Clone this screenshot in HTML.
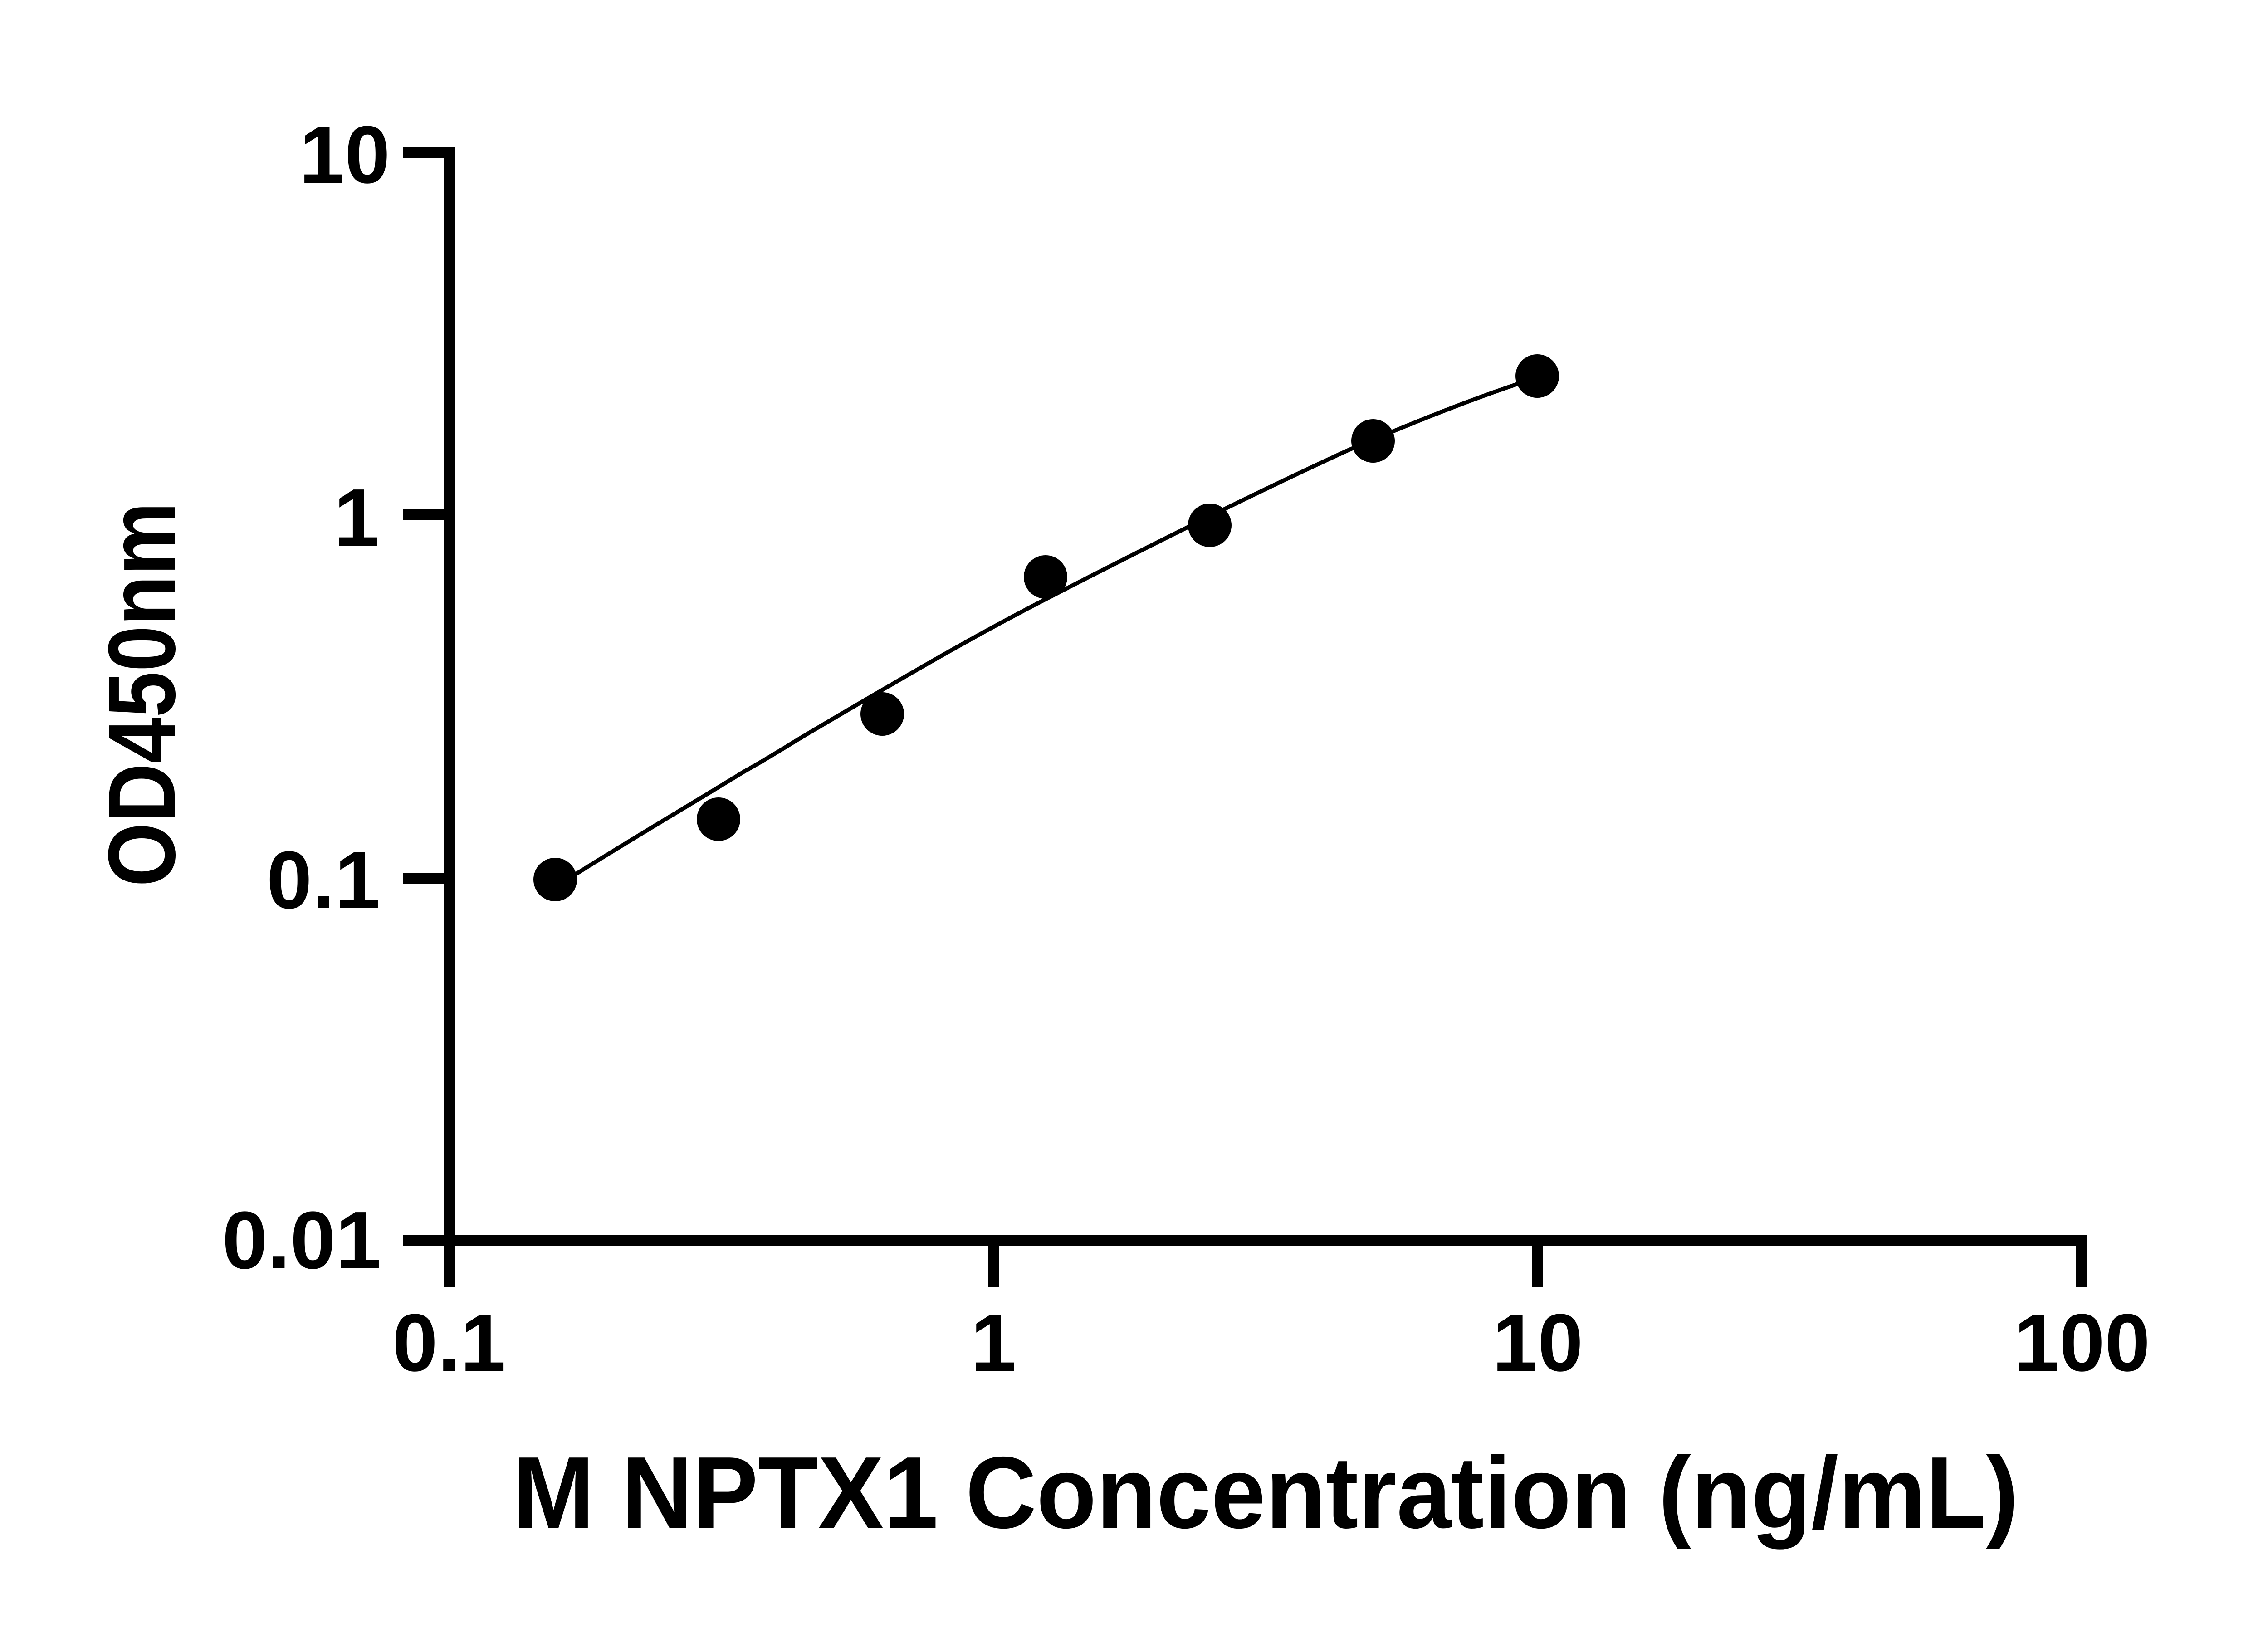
<!DOCTYPE html>
<html><head><meta charset="utf-8"><style>
html,body{margin:0;padding:0;background:#fff;}
svg{display:block;}
text{font-family:"Liberation Sans",Arial,sans-serif;font-weight:bold;fill:#000;}
</style></head><body>
<svg width="5142" height="3600" viewBox="0 0 5142 3600" xmlns="http://www.w3.org/2000/svg">
<rect width="5142" height="3600" fill="#fff"/>
<g stroke="#000" stroke-width="24" fill="none" stroke-linecap="butt">
  <!-- y axis -->
  <line x1="990" y1="324" x2="990" y2="2838"/>
  <!-- x axis -->
  <line x1="978" y1="2735" x2="4601" y2="2735"/>
  <!-- y ticks -->
  <line x1="888" y1="336" x2="1002" y2="336"/>
  <line x1="888" y1="1135" x2="990" y2="1135"/>
  <line x1="888" y1="1936" x2="990" y2="1936"/>
  <line x1="888" y1="2735" x2="990" y2="2735"/>
  <!-- x ticks -->
  <line x1="2190" y1="2735" x2="2190" y2="2838"/>
  <line x1="3390" y1="2735" x2="3390" y2="2838"/>
  <line x1="4589" y1="2723" x2="4589" y2="2838"/>
</g>
<g font-size="180" text-anchor="end">
  <text x="860" y="403">10</text>
  <text x="836" y="1203">1</text>
  <text x="838" y="2002">0.1</text>
  <text x="840" y="2796">0.01</text>
</g>
<g font-size="180" text-anchor="middle">
  <text x="990" y="3022">0.1</text>
  <text x="2190" y="3022">1</text>
  <text x="3390" y="3022">10</text>
  <text x="4590" y="3022">100</text>
</g>
<text x="2790" y="3368" font-size="225" text-anchor="middle" textLength="3320" lengthAdjust="spacingAndGlyphs">M NPTX1 Concentration (ng/mL)</text>
<text transform="translate(385,1531) rotate(-90)" font-size="210" text-anchor="middle" textLength="848" lengthAdjust="spacingAndGlyphs">OD450nm</text>
<path d="M1224,1946 L1268,1928 C1400,1845 1520,1775 1642,1700 C1700,1668 1750,1635 1800,1606 C1980,1500 2150,1400 2317,1315 C2540,1200 2760,1090 2971,993 C3100,938 3230,885 3350,845 L3389,832" stroke="#000" stroke-width="9" fill="none"/>
<g fill="#000">
  <circle cx="1224" cy="1939" r="48"/>
  <circle cx="1584" cy="1806" r="48"/>
  <circle cx="1945" cy="1574" r="48"/>
  <circle cx="2305" cy="1272" r="48"/>
  <circle cx="2667" cy="1158" r="48"/>
  <circle cx="3027" cy="972" r="48"/>
  <circle cx="3389" cy="829" r="48"/>
</g>
</svg>
</body></html>
